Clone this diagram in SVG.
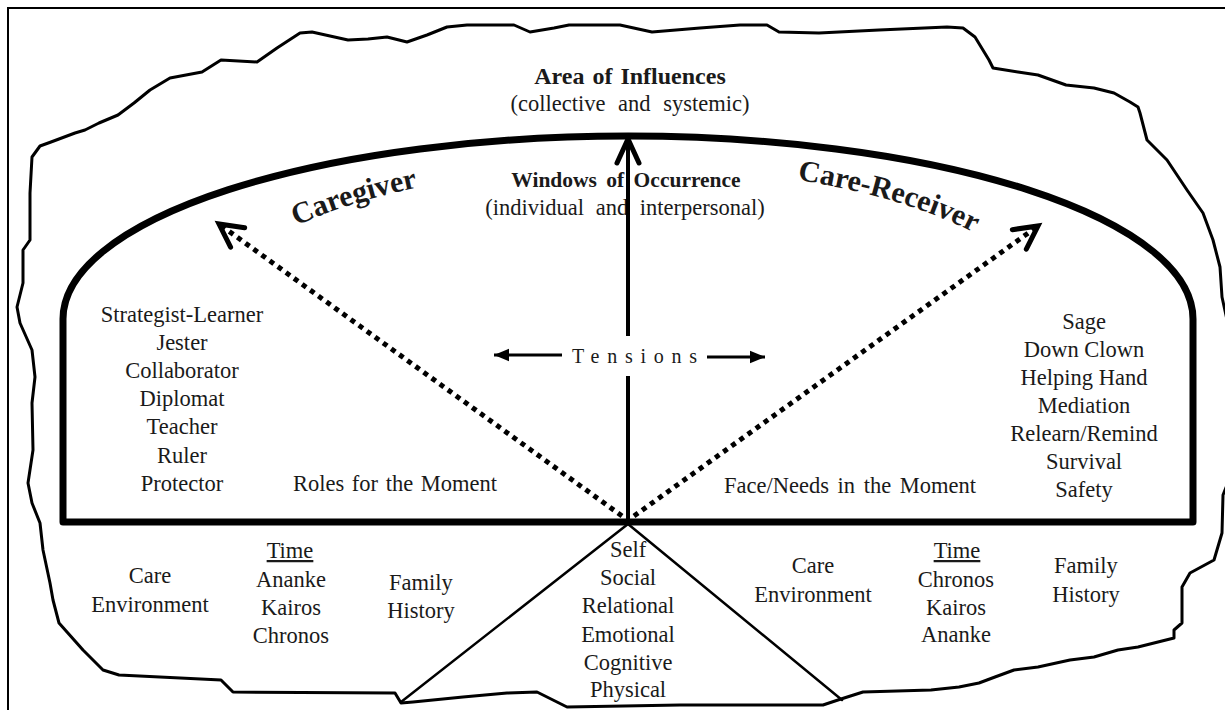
<svg xmlns="http://www.w3.org/2000/svg" width="1225" height="710" viewBox="0 0 1225 710">
<style>
text{font-family:"Liberation Serif","Times New Roman",serif;fill:#1a1a1a;font-size:22.5px}
.c{text-anchor:middle}
.b{font-weight:bold}
.ln{fill:none;stroke:#000;stroke-linejoin:round;stroke-linecap:round}
</style>
<defs>
<marker id="chev" markerUnits="userSpaceOnUse" markerWidth="40" markerHeight="40" viewBox="-30 -20 40 40" refX="0" refY="0" orient="auto">
<path d="M-24,-11 L0,0 L-24,11" fill="none" stroke="#000" stroke-width="5" stroke-linecap="round" stroke-linejoin="miter"/>
</marker>
<marker id="chev2" markerUnits="userSpaceOnUse" markerWidth="40" markerHeight="40" viewBox="-30 -20 40 40" refX="0" refY="0" orient="auto">
<path d="M-23,-12 L0,0 L-23,12" fill="none" stroke="#000" stroke-width="5" stroke-linecap="round" stroke-linejoin="miter"/>
</marker>
<marker id="tri" markerUnits="userSpaceOnUse" markerWidth="20" markerHeight="20" viewBox="-14 -8 16 16" refX="0" refY="0" orient="auto">
<path d="M-12,-5 L0,0 L-12,5 Z" fill="#000"/>
</marker>
<path id="arcText" d="M208,319 A420,152 0 0 1 1048,319"/>
</defs>
<rect width="1225" height="710" fill="#fff"/>
<path id="frame" d="M8,712 V8 H1228" fill="none" stroke="#000" stroke-width="2"/>

<g id="cloud">
<path class="ln" stroke-width="3" d="M40,146 L51,142 L75,133 L85,130 L99,123 L118,115 L134,103 L150,90 L170,78 L186,75 L202,72 L221,60 L257,62 L277,48 L300,33 L312,32 L348,40 L368,39 L387,37 L407,42 L427,35 L447,27 L467,25 L514,25 L530,32 L554,28 L569,25 L620,25 L652,32 L700,28 L740,25 L767,25 L779,32 L819,33 L879,30 L947,27 L963,28 L975,37 L989,60 L993,68 L1018,72 L1038,75 L1066,85 L1094,88 L1114,93 L1130,102 L1138,107 L1140,113 L1147,140 L1167,160 L1187,190 L1203,213 L1213,240 L1220,267 L1222,297 L1227,320 L1229,400 L1229,480 L1223,495 L1222,533 L1214,560 L1190,573 L1182,587 L1182,623 L1174,630 L1174,638 L1138,647 L1118,650 L1094,657 L1070,660 L1038,667 L1014,670 L995,677 L979,683 L959,687 L931,690 L863,692 L841,699 L823,705 L680,705 L567,707 L553,700 L537,692 L507,693 L463,697 L413,702 L401,703 L395,693 L233,692 L221,680 L119,675 L103,670 L83,650 L59,623 L53,600 L50,583 L43,550 L40,523 L32,503 L28,483 L33,450 L32,403 L35,377 L32,350 L20,323 L17,307 L23,283 L23,250 L30,240 L30,193 L32,157 Z"/>
</g>

<g id="title">
<text class="c b" x="630" y="84" style="font-size:24px;word-spacing:2px">Area of Influences</text>
<text class="c" x="630" y="111" style="font-size:22.5px;word-spacing:7px">(collective and systemic)</text>
</g>

<g id="dome">
<path class="ln" stroke-width="7" stroke-linejoin="miter" d="M63,522 V319 A565,183 0 0 1 1193,319 V522 Z"/>
</g>

<g id="windows">
<text class="c b" x="626" y="187" style="font-size:21.5px;word-spacing:4px">Windows of Occurrence</text>
<text class="c" x="625" y="215" style="font-size:22.5px;word-spacing:6px">(individual and interpersonal)</text>
</g>

<g id="caregiver">
<text class="b" style="font-size:30px"><textPath href="#arcText" startOffset="135">Caregiver</textPath></text>
</g>
<g id="care-receiver">
<text class="b" style="font-size:30px"><textPath href="#arcText" startOffset="644">Care-Receiver</textPath></text>
</g>

<g id="triangle">
<polyline class="ln" stroke-width="2.5" points="401,702 628,524 842,700"/>
</g>

<g id="connectors">
<line x1="628" y1="522" x2="628" y2="376" stroke="#000" stroke-width="4"/>
<line x1="628" y1="336" x2="628" y2="139" stroke="#000" stroke-width="4" marker-end="url(#chev)"/>
<line x1="622" y1="516" x2="219" y2="224" stroke="#000" stroke-width="5" stroke-dasharray="5 5" marker-end="url(#chev2)"/>
<line x1="634" y1="516" x2="1038" y2="226" stroke="#000" stroke-width="5" stroke-dasharray="5 5" marker-end="url(#chev2)"/>
<line x1="562" y1="355" x2="494" y2="355" stroke="#000" stroke-width="3" marker-end="url(#tri)"/>
<line x1="707" y1="357" x2="765" y2="357" stroke="#000" stroke-width="3" marker-end="url(#tri)"/>
</g>

<g id="tensions">
<text x="572" y="363" style="font-size:20px" textLength="125" lengthAdjust="spacing">Tensions</text>
</g>

<g id="roles-list">
<text class="c" x="182" y="322">Strategist-Learner</text>
<text class="c" x="182" y="350">Jester</text>
<text class="c" x="182" y="378">Collaborator</text>
<text class="c" x="182" y="406">Diplomat</text>
<text class="c" x="182" y="434">Teacher</text>
<text class="c" x="182" y="463">Ruler</text>
<text class="c" x="182" y="491">Protector</text>
</g>
<g id="roles-label">
<text class="c" x="395" y="491" style="word-spacing:2px">Roles for the Moment</text>
</g>

<g id="needs-list">
<text class="c" x="1084" y="329">Sage</text>
<text class="c" x="1084" y="357">Down Clown</text>
<text class="c" x="1084" y="385">Helping Hand</text>
<text class="c" x="1084" y="413">Mediation</text>
<text class="c" x="1084" y="441">Relearn/Remind</text>
<text class="c" x="1084" y="469">Survival</text>
<text class="c" x="1084" y="497">Safety</text>
</g>
<g id="needs-label">
<text class="c" x="850" y="493" style="word-spacing:3px">Face/Needs in the Moment</text>
</g>

<g id="left-care-env">
<text class="c" x="150" y="583">Care</text>
<text class="c" x="150" y="612">Environment</text>
</g>
<g id="left-time">
<text class="c" x="290" y="558" text-decoration="underline">Time</text>
<text class="c" x="291" y="587">Ananke</text>
<text class="c" x="291" y="615">Kairos</text>
<text class="c" x="291" y="643">Chronos</text>
</g>
<g id="left-family">
<text class="c" x="421" y="590">Family</text>
<text class="c" x="421" y="618">History</text>
</g>

<g id="self">
<text class="c" x="628" y="557">Self</text>
<text class="c" x="628" y="585">Social</text>
<text class="c" x="628" y="613">Relational</text>
<text class="c" x="628" y="642">Emotional</text>
<text class="c" x="628" y="670">Cognitive</text>
<text class="c" x="628" y="697">Physical</text>
</g>

<g id="right-care-env">
<text class="c" x="813" y="573">Care</text>
<text class="c" x="813" y="602">Environment</text>
</g>
<g id="right-time">
<text class="c" x="957" y="558" text-decoration="underline">Time</text>
<text class="c" x="956" y="587">Chronos</text>
<text class="c" x="956" y="615">Kairos</text>
<text class="c" x="956" y="642">Ananke</text>
</g>
<g id="right-family">
<text class="c" x="1086" y="573">Family</text>
<text class="c" x="1086" y="602">History</text>
</g>
</svg>
